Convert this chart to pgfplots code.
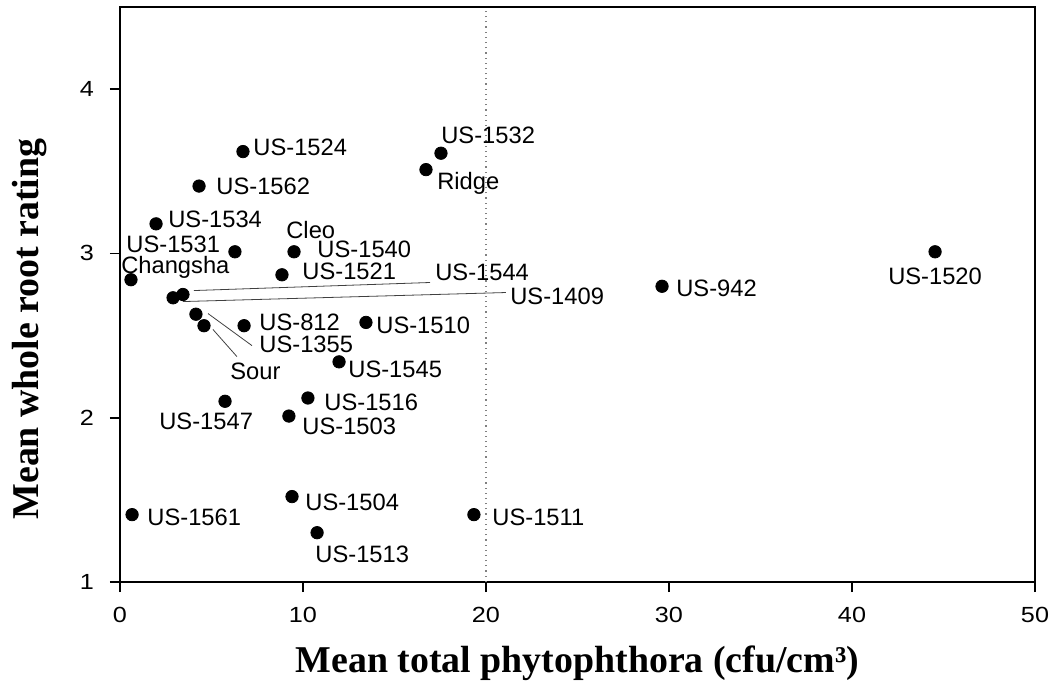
\documentclass[border=0pt]{standalone}
\usepackage{fontspec}
\setmainfont{Liberation Sans}
\newfontfamily\timesfont{Liberation Serif}
\newfontfamily\tickfont{Liberation Sans}[FakeStretch=1.15]
\usepackage{pgfplots}
\usepackage{pgfplotstable}
\pgfplotsset{compat=1.18}
\tikzset{lab/.style={font=\fontsize{11.9}{13}\selectfont, inner sep=0pt, anchor=base west}}

% mean total phytophthora vs mean whole root rating
\pgfplotstableread{
x     y
6.72  3.62
17.54 3.61
16.72 3.51
4.32  3.41
1.97  3.18
6.28  3.01
9.51  3.01
44.54 3.01
8.85  2.87
0.60  2.84
29.62 2.80
3.44  2.75
2.90  2.73
4.15  2.63
13.44 2.58
6.78  2.56
4.59  2.56
11.97 2.34
10.27 2.12
5.74  2.10
9.23  2.01
9.40  1.52
0.66  1.41
19.34 1.41
10.77 1.30
}\roots

\begin{document}
\begin{tikzpicture}
\begin{axis}[
  scale only axis, width=457.5bp, height=287.5bp,
  xmin=0, xmax=50, ymin=1, ymax=4.5,
  xtick={0,10,20,30,40,50}, ytick={1,2,3,4},
  tick pos=left, tick align=outside, major tick length=5bp,
  axis line style={line width=0.8pt},
  every tick/.style={black, line width=0.8pt},
  /pgf/number format/assume math mode=true,
  ticklabel style={font=\tickfont\fontsize{11}{13}\selectfont},
  xticklabel style={yshift=-4bp},
  yticklabel style={xshift=-4.5bp},
  xlabel={\timesfont\bfseries Mean total phytophthora (cfu/cm³)},
  ylabel={\timesfont\bfseries Mean whole root rating},
  xlabel style={font=\fontsize{19}{22}\selectfont, at={(axis description cs:0.5,0)}, anchor=base, yshift=-45bp},
  ylabel style={font=\fontsize{19}{22}\selectfont, at={(axis description cs:-0.0984,0.44)}, anchor=center},
  clip=false,
]
\addplot[gray, dotted, line width=0.6pt] coordinates {(20,1) (20,4.5)};
\addplot[only marks, mark=*, mark size=3.1bp, black] table {\roots};

\draw[black!75, line width=0.4pt] (axis cs:4.04,2.774) -- (axis cs:16.94,2.823);
\draw[black!75, line width=0.4pt] (axis cs:3.44,2.707) -- (axis cs:21.09,2.762);
\draw[black!75, line width=0.4pt] (axis cs:4.81,2.634) -- (axis cs:7.21,2.439);
\draw[black!75, line width=0.4pt] (axis cs:5.08,2.537) -- (axis cs:6.39,2.372);

\node[lab] at (axis cs:7.27,3.596) {US-1524};
\node[lab] at (axis cs:5.25,3.358) {US-1562};
\node[lab] at (axis cs:2.62,3.157) {US-1534};
\node[lab] at (axis cs:0.33,3.004) {US-1531};
\node[lab] at (axis cs:0.05,2.876) {Changsha};
\node[lab] at (axis cs:9.07,3.092) {Cleo};
\node[lab] at (axis cs:10.77,2.978) {US-1540};
\node[lab] at (axis cs:9.95,2.840) {US-1521};
\node[lab] at (axis cs:17.21,2.834) {US-1544};
\node[lab] at (axis cs:21.31,2.687) {US-1409};
\node[lab] at (axis cs:30.38,2.736) {US-942};
\node[lab, anchor=base] at (axis cs:44.54,2.809) {US-1520};
\node[lab] at (axis cs:17.54,3.669) {US-1532};
\node[lab] at (axis cs:17.32,3.388) {Ridge};
\node[lab] at (axis cs:7.60,2.529) {US-812};
\node[lab] at (axis cs:7.60,2.395) {US-1355};
\node[lab] at (axis cs:6.01,2.230) {Sour};
\node[lab] at (axis cs:13.99,2.510) {US-1510};
\node[lab] at (axis cs:12.46,2.242) {US-1545};
\node[lab] at (axis cs:11.15,2.041) {US-1516};
\node[lab] at (axis cs:9.95,1.895) {US-1503};
\node[lab] at (axis cs:2.13,1.931) {US-1547};
\node[lab] at (axis cs:10.11,1.437) {US-1504};
\node[lab] at (axis cs:1.48,1.346) {US-1561};
\node[lab] at (axis cs:10.66,1.120) {US-1513};
\node[lab] at (axis cs:20.33,1.346) {US-1511};
\end{axis}
\pgfresetboundingbox
\path (current axis.south west) ++(-60bp,-49.5bp) rectangle ++(526.5bp,340.5bp);
\end{tikzpicture}
\end{document}
